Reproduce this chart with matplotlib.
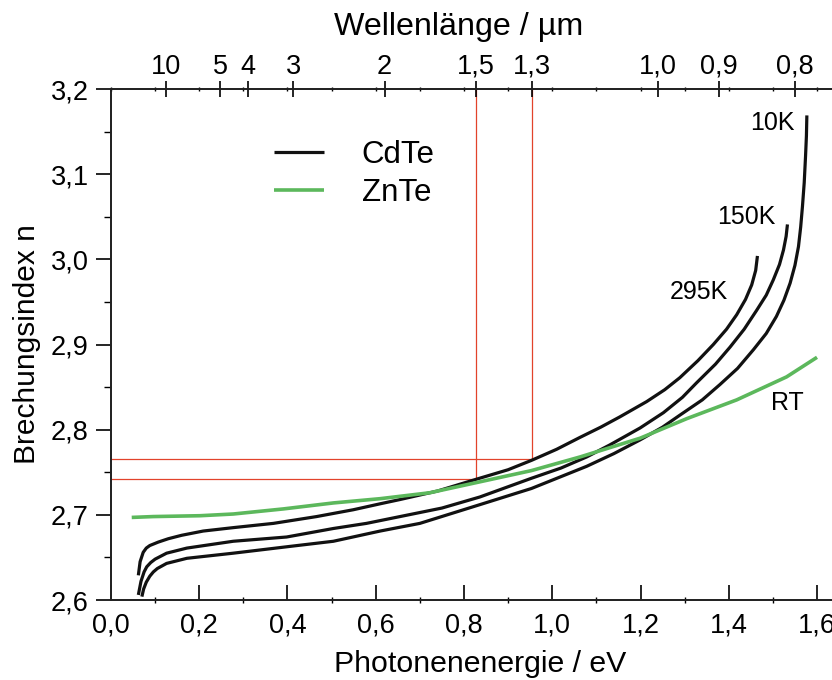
import matplotlib.pyplot as plt
import numpy as np
from matplotlib.ticker import MultipleLocator, FixedLocator

plt.rcParams["font.family"] = ["Liberation Sans", "DejaVu Sans"]

# CdTe, Brechungsindex vs. Photonenenergie (eV)
e_295k = [0.062, 0.066, 0.073, 0.080, 0.088, 0.107, 0.130, 0.160, 0.209, 0.277,
          0.368, 0.466, 0.549, 0.610, 0.655, 0.740, 0.829, 0.900, 0.953, 1.010,
          1.063, 1.110, 1.153, 1.214, 1.255, 1.289, 1.330, 1.365, 1.395, 1.418,
          1.438, 1.452, 1.461, 1.465]
n_295k = [2.629, 2.645, 2.656, 2.661, 2.664, 2.668, 2.672, 2.676, 2.681, 2.685,
          2.690, 2.698, 2.706, 2.713, 2.718, 2.728, 2.742, 2.753, 2.764, 2.777,
          2.791, 2.803, 2.815, 2.833, 2.847, 2.861, 2.881, 2.900, 2.918, 2.935,
          2.953, 2.970, 2.987, 3.004]

e_150k = [0.062, 0.068, 0.075, 0.081, 0.090, 0.100, 0.126, 0.172, 0.277, 0.398,
          0.504, 0.579, 0.655, 0.750, 0.836, 0.953, 1.020, 1.078, 1.130, 1.199,
          1.252, 1.295, 1.327, 1.370, 1.403, 1.435, 1.463, 1.485, 1.501, 1.515,
          1.524, 1.530, 1.533]
n_150k = [2.606, 2.622, 2.633, 2.639, 2.644, 2.648, 2.655, 2.661, 2.669, 2.674,
          2.684, 2.690, 2.698, 2.708, 2.721, 2.743, 2.755, 2.768, 2.782, 2.802,
          2.820, 2.838, 2.855, 2.877, 2.897, 2.918, 2.940, 2.958, 2.976, 2.994,
          3.011, 3.027, 3.041]

e_10k = [0.070, 0.074, 0.080, 0.088, 0.096, 0.105, 0.126, 0.172, 0.277, 0.406,
         0.504, 0.610, 0.700, 0.836, 0.953, 1.078, 1.140, 1.199, 1.250, 1.289,
         1.340, 1.380, 1.420, 1.456, 1.485, 1.508, 1.525, 1.539, 1.550, 1.558,
         1.563, 1.567, 1.571, 1.574, 1.576, 1.577]
n_10k = [2.604, 2.613, 2.621, 2.628, 2.633, 2.637, 2.643, 2.649, 2.655, 2.663,
         2.669, 2.681, 2.690, 2.712, 2.731, 2.757, 2.772, 2.788, 2.803, 2.817,
         2.835, 2.853, 2.872, 2.894, 2.913, 2.933, 2.952, 2.972, 2.993, 3.015,
         3.038, 3.062, 3.090, 3.121, 3.145, 3.169]

# ZnTe bei Raumtemperatur
e_znte = [0.047, 0.096, 0.202, 0.277, 0.391, 0.504, 0.610, 0.723, 0.829, 0.953,
          1.063, 1.199, 1.305, 1.418, 1.531, 1.600]
n_znte = [2.697, 2.698, 2.699, 2.701, 2.707, 2.714, 2.719, 2.726, 2.738, 2.752,
          2.768, 2.790, 2.813, 2.835, 2.862, 2.885]

curve_labels = ["295K", "150K", "10K"]

# Wellenlaengen der oberen Achse (um) und markierte Punkte
wl_ticks = [10, 5, 4, 3, 2, 1.5, 1.3, 1.0, 0.9, 0.8]
wl_labels = ["10", "5", "4", "3", "2", "1,5", "1,3", "1,0", "0,9", "0,8"]
wl_mark = [1.5, 1.3]
n_mark = [2.742, 2.766]

HC = 1.23984  # eV*um


def comma(x, pos=None):
    return f"{x:.1f}".replace(".", ",")


fig = plt.figure(figsize=(8.32, 6.8), dpi=100)
ax = fig.add_axes([0.1334, 0.1176, 0.8698, 0.7515])

black = "#111111"
green = "#5cb85c"
red = "#e2432b"

ax.plot(e_295k, n_295k, color=black, lw=2.3, solid_capstyle="butt", label="CdTe")
ax.plot(e_150k, n_150k, color=black, lw=2.3, solid_capstyle="butt")
ax.plot(e_10k, n_10k, color=black, lw=2.3, solid_capstyle="butt")
ax.plot(e_znte, n_znte, color=green, lw=2.6, solid_capstyle="butt", label="ZnTe")

for wl, n in zip(wl_mark, n_mark):
    e = HC / wl
    ax.plot([e, e], [n, 3.2], color=red, lw=0.9, zorder=1)
    ax.plot([0, e], [n, n], color=red, lw=0.9, zorder=1)

lab_fs = 18
ax.text(1.332, 2.962, curve_labels[0], fontsize=lab_fs, ha="center", va="center")
ax.text(1.439, 3.050, curve_labels[1], fontsize=lab_fs, ha="center", va="center")
ax.text(1.499, 3.160, curve_labels[2], fontsize=lab_fs, ha="center", va="center")
ax.text(1.533, 2.831, "RT", fontsize=lab_fs, ha="center", va="center")

ax.set_xlim(0, 1.64)
ax.set_ylim(2.6, 3.2)
ax.xaxis.set_major_locator(MultipleLocator(0.2))
ax.xaxis.set_minor_locator(MultipleLocator(0.1))
ax.yaxis.set_major_locator(MultipleLocator(0.1))
ax.yaxis.set_minor_locator(MultipleLocator(0.05))
ax.xaxis.set_major_formatter(comma)
ax.yaxis.set_major_formatter(comma)

ax.tick_params(axis="x", which="major", direction="in", length=11, width=1.2,
               labelsize=19.5, pad=9)
ax.tick_params(axis="x", which="minor", direction="inout", length=4, width=1.0)
ax.tick_params(axis="y", which="major", direction="out", length=11, width=1.2,
               labelsize=19.5, pad=5, right=True)
ax.tick_params(axis="y", which="minor", direction="out", length=5, width=1.0)
for s in ax.spines.values():
    s.set_linewidth(1.3)
    s.set_color("#222222")

ax.set_xlabel("Photonenenergie / eV", fontsize=21.8, labelpad=8, x=0.51)
ax.set_ylabel("Brechungsindex n", fontsize=21.5, labelpad=7)

top = ax.twiny()
top.set_xlim(ax.get_xlim())
top.xaxis.set_major_locator(FixedLocator([HC / w for w in wl_ticks]))
top.xaxis.set_ticklabels(wl_labels)
top.xaxis.set_minor_locator(MultipleLocator(0.1))
top.tick_params(axis="x", which="major", direction="inout", length=11, width=1.2,
                labelsize=19.5, pad=1)
top.tick_params(axis="x", which="minor", direction="inout", length=3, width=1.0)
top.set_xlabel("Wellenlänge / µm", fontsize=23.2, labelpad=14, x=0.481)
for s in top.spines.values():
    s.set_linewidth(1.3)
    s.set_color("#222222")

ax.legend(loc="upper left", bbox_to_anchor=(0.208, 0.925), frameon=False,
          fontsize=22.5, handlelength=1.6, handletextpad=1.2, labelspacing=0.25,
          borderaxespad=0)

fig.savefig("out.png", dpi=100)
